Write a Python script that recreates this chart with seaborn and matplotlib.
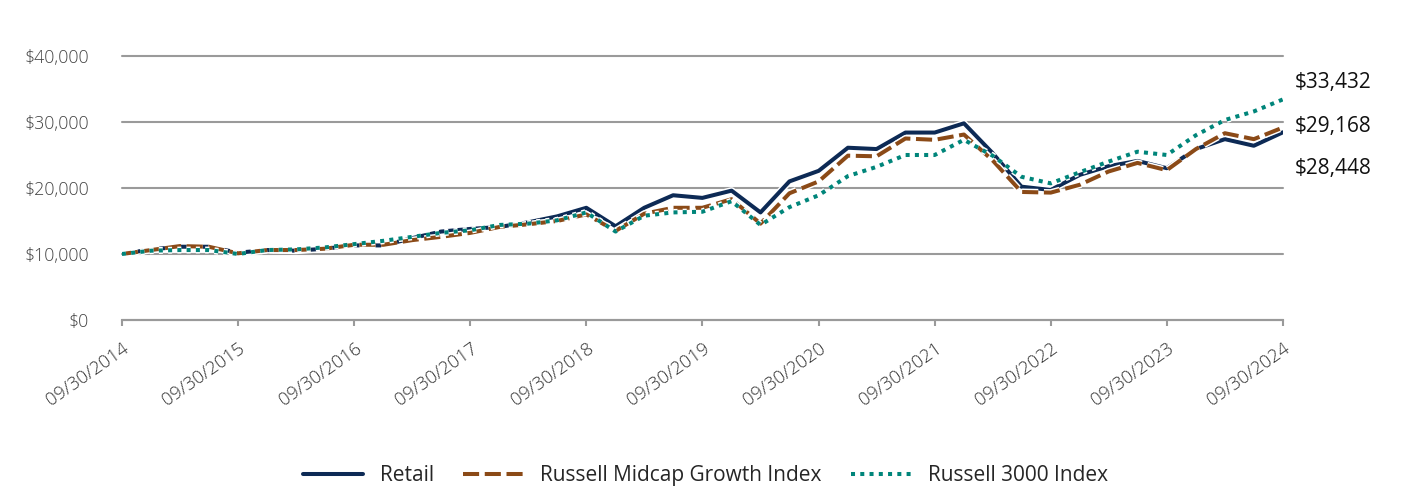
import pandas as pd
import numpy as np
import matplotlib
matplotlib.use("Agg")
import matplotlib.pyplot as plt
import matplotlib.patheffects as pe
import seaborn as sns

# quarterly values, $ thousands
retail = [10.0, 10.7, 11.1, 11.1, 10.2, 10.6, 10.5, 10.8, 11.3, 11.3,
          12.4, 13.4, 13.8, 14.1, 14.8, 15.7, 17.0, 14.2, 17.0, 18.9,
          18.5, 19.6, 16.3, 21.0, 22.6, 26.1, 25.9, 28.4, 28.4, 29.8,
          25.3, 20.2, 19.7, 22.0, 23.3, 24.1, 23.0, 25.9, 27.4, 26.4, 28.448]
midcap = [10.0, 10.6, 11.2, 11.1, 10.1, 10.6, 10.6, 10.8, 11.4, 11.4,
          12.1, 12.6, 13.2, 14.1, 14.5, 15.0, 16.0, 13.5, 16.1, 17.0,
          17.0, 18.3, 14.6, 19.2, 21.0, 24.9, 24.8, 27.5, 27.3, 28.1,
          24.2, 19.4, 19.3, 20.5, 22.5, 23.8, 22.7, 25.9, 28.3, 27.4, 29.168]
r3000 = [10.0, 10.5, 10.6, 10.6, 10.0, 10.6, 10.7, 11.0, 11.5, 12.0,
         12.6, 13.2, 13.6, 14.4, 14.6, 15.1, 16.3, 13.4, 15.8, 16.3,
         16.4, 18.0, 14.4, 17.1, 18.9, 21.8, 23.2, 25.0, 25.0, 27.3,
         24.9, 21.7, 20.7, 22.4, 24.0, 25.5, 25.0, 28.0, 30.3, 31.6, 33.432]
series_names = ["Retail", "Russell Midcap Growth Index", "Russell 3000 Index"]
end_labels = ["$33,432", "$29,168", "$28,448"]
year_ticks = [f"09/30/{y}" for y in range(2014, 2025)]
y_ticks = [0, 10000, 20000, 30000, 40000]

dates = pd.date_range("2014-09-30", periods=41, freq="QE")
df = pd.DataFrame({"date": np.tile(dates, 3),
                   "value": np.concatenate([retail, midcap, r3000]) * 1000,
                   "series": np.repeat(series_names, 41)})

sns.set_style("white")
plt.rcParams["font.family"] = ["Open Sans", "DejaVu Sans"]

colors = {"Retail": "#0d2a55", "Russell Midcap Growth Index": "#8b4a17",
          "Russell 3000 Index": "#00857a"}
dashes = {"Retail": "", "Russell Midcap Growth Index": (4, 1.4),
          "Russell 3000 Index": (1, 1.3)}

fig = plt.figure(figsize=(14.28, 4.92), dpi=100)
ax = fig.add_axes([0.0854, 0.3496, 0.8131, 0.5366])
sns.lineplot(data=df, x="date", y="value", hue="series", style="series",
             palette=colors, dashes=dashes, linewidth=2.9, ax=ax)

# white halo round each line
for ln in ax.get_lines():
    ln.set_path_effects([pe.Stroke(linewidth=5, foreground="white"), pe.Normal()])
    ln.set_dash_capstyle("butt")

ax.set_ylim(0, 40000)
ax.set_xlim(dates[0], dates[-1])
ax.set_yticks(y_ticks)
ax.set_yticklabels([f"${v:,.0f}" for v in y_ticks],
                   fontsize=12.8, color="#444444", fontweight="light")
ax.yaxis.grid(True, color="#9a9a9a", linewidth=1.5)
for gl in ax.get_ygridlines():
    gl.set_clip_on(False)
ax.set_axisbelow(True)
for s in ["left", "right", "top"]:
    ax.spines[s].set_visible(False)
ax.spines["bottom"].set_color("#9a9a9a")
ax.spines["bottom"].set_linewidth(1.5)

ax.set_xticks(dates[::4])
ax.set_xticklabels(year_ticks, rotation=35, ha="right", va="top",
                   rotation_mode="anchor", fontsize=13.2, color="#333333",
                   fontweight="light")
ax.tick_params(axis="x", bottom=True, length=4, width=1.5, color="#9a9a9a", pad=10)
ax.tick_params(axis="y", left=False, pad=20)
ax.set_xlabel("")
ax.set_ylabel("")

for txt, yv in zip(end_labels, [0.833, 0.742, 0.657]):
    fig.text(0.907, yv, txt, fontsize=15, color="#111111", va="center")

h, l = ax.get_legend_handles_labels()
leg = ax.legend(h, l, loc="center", bbox_to_anchor=(0.494, 0.033),
                bbox_transform=fig.transFigure, ncol=3, frameon=False,
                fontsize=15, handlelength=2.9, columnspacing=1.4,
                handletextpad=0.8)
for lh in leg.get_lines():
    lh.set_linewidth(2.9)
    lh.set_path_effects([])

fig.savefig("out.png", dpi=100)
